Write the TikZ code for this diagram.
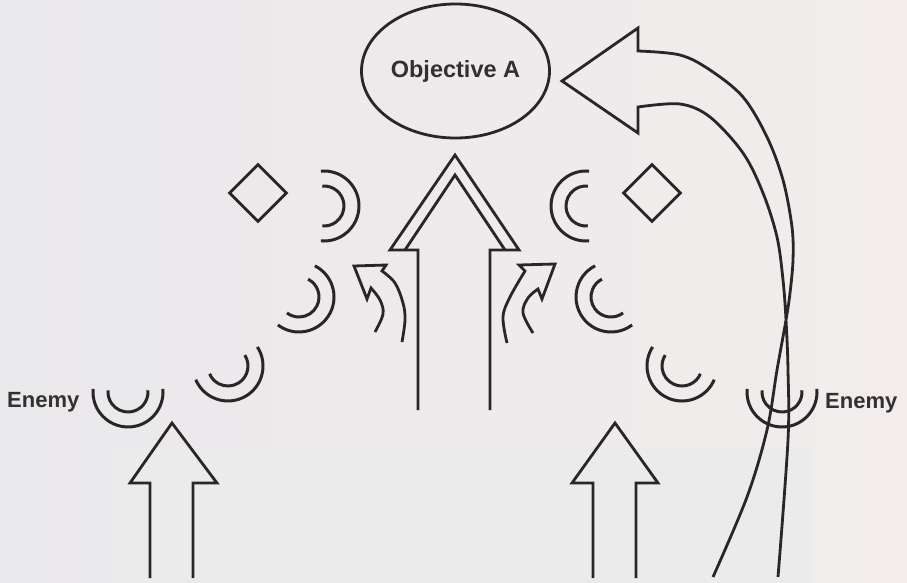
\documentclass[tikz,border=0pt]{standalone}
\usepackage{fontspec}
\setmainfont{Liberation Sans}
\usetikzlibrary{shapes.geometric}
\definecolor{ink}{HTML}{2A2627}
\definecolor{txt}{HTML}{333031}
\definecolor{bgL}{HTML}{E9E8EB}
\definecolor{bgR}{HTML}{F2EDEC}
\definecolor{scan}{HTML}{ECEBEB}
\tikzset{
  ln/.style={draw=ink, line width=2.8pt, line join=miter},
  sym/.style={draw=ink, line width=3pt},
  lbl/.style={text=txt, font=\bfseries\fontsize{22}{24}\selectfont, inner sep=0pt},
}
\newcommand\dblarc[3]{%
  \draw[sym] (#1,#2) ++({#3-95}:35) arc[start angle={#3-95}, end angle={#3+95}, radius=35];
  \draw[sym] (#1,#2) ++({#3-95}:20) arc[start angle={#3-95}, end angle={#3+95}, radius=20];
}
\begin{document}
\begin{tikzpicture}[x=1pt,y=-1pt]
\useasboundingbox (0,0) rectangle (907,583);
\shade[left color=bgL, right color=bgR] (0,0) rectangle (907,583);
\fill[scan] (110,447) rectangle (810,583);

% Objective
\node[ellipse, draw=ink, line width=2.8pt, minimum width=188, minimum height=134, inner sep=0pt,
      text=txt, font=\bfseries\fontsize{23.5}{26}\selectfont] (objA) at (455.5,71) {Objective A};

% Enemy labels
\node[lbl, anchor=base west] (enL) at (7,407) {Enemy};
\node[lbl, anchor=base west] (enR) at (825,408) {Enemy};

% diamonds
\node[diamond, draw=ink, line width=2.8pt, minimum width=58, minimum height=58, inner sep=0pt] (dL) at (258,193) {};
\node[diamond, draw=ink, line width=2.8pt, minimum width=58, minimum height=58, inner sep=0pt] (dR) at (652,193) {};

% double arcs (enemy positions)
\dblarc{128}{392}{90}
\dblarc{228}{366}{62}
\dblarc{299}{297}{32}
\dblarc{324}{206}{0}
\dblarc{782}{392}{90}
\dblarc{682}{366}{118}
\dblarc{611}{297}{148}
\dblarc{586}{206}{180}

% central double arrow
\draw[ln] (418,410) -- (418,250) -- (390,250) -- (455,155) -- (519,250) -- (490,250) -- (490,410);
\draw[ln] (405,250) -- (455,175) -- (505,250);

% bottom arrows
\draw[ln] (150,578) -- (150,483) -- (130,483) -- (172,423) -- (217,483) -- (193,483) -- (193,578);
\draw[ln] (593,578) -- (593,483) -- (572,483) -- (615,423) -- (658,483) -- (636,483) -- (636,578);

% small curved arrows
\draw[ln] plot[smooth, tension=0.6] coordinates {(375,332) (383,314) (380,300) (371,288)}
   -- (367,299) -- (354,266) -- (386,265) -- (382,271)
   -- plot[smooth, tension=0.6] coordinates {(382,271) (395,283) (403,303) (405,320) (402,342)};
\draw[ln] plot[smooth, tension=0.6] coordinates {(533,333) (523,313) (528,298) (538,289)}
   -- (542,299) -- (555,264) -- (519,265) -- (525,271)
   -- plot[smooth, tension=0.6] coordinates {(525,271) (510,297) (503,317) (507,343)};

% big curved arrow to objective
\draw[ln] plot[smooth, tension=0.55] coordinates {(713,577) (747,497) (767,430) (777,370) (786,320) (790,293) (793,260) (792,227) (783,180) (767,137) (743,97) (710,70) (680,55) (638,51)}
   -- (638,28) -- (562,81) -- (638,133) -- (638,107)
   -- plot[smooth, tension=0.55] coordinates {(638,107) (680,104) (710,117) (743,153) (763,193) (777,237) (783,280) (786,320) (788,370) (788,440) (778,577)};
\end{tikzpicture}
\end{document}
